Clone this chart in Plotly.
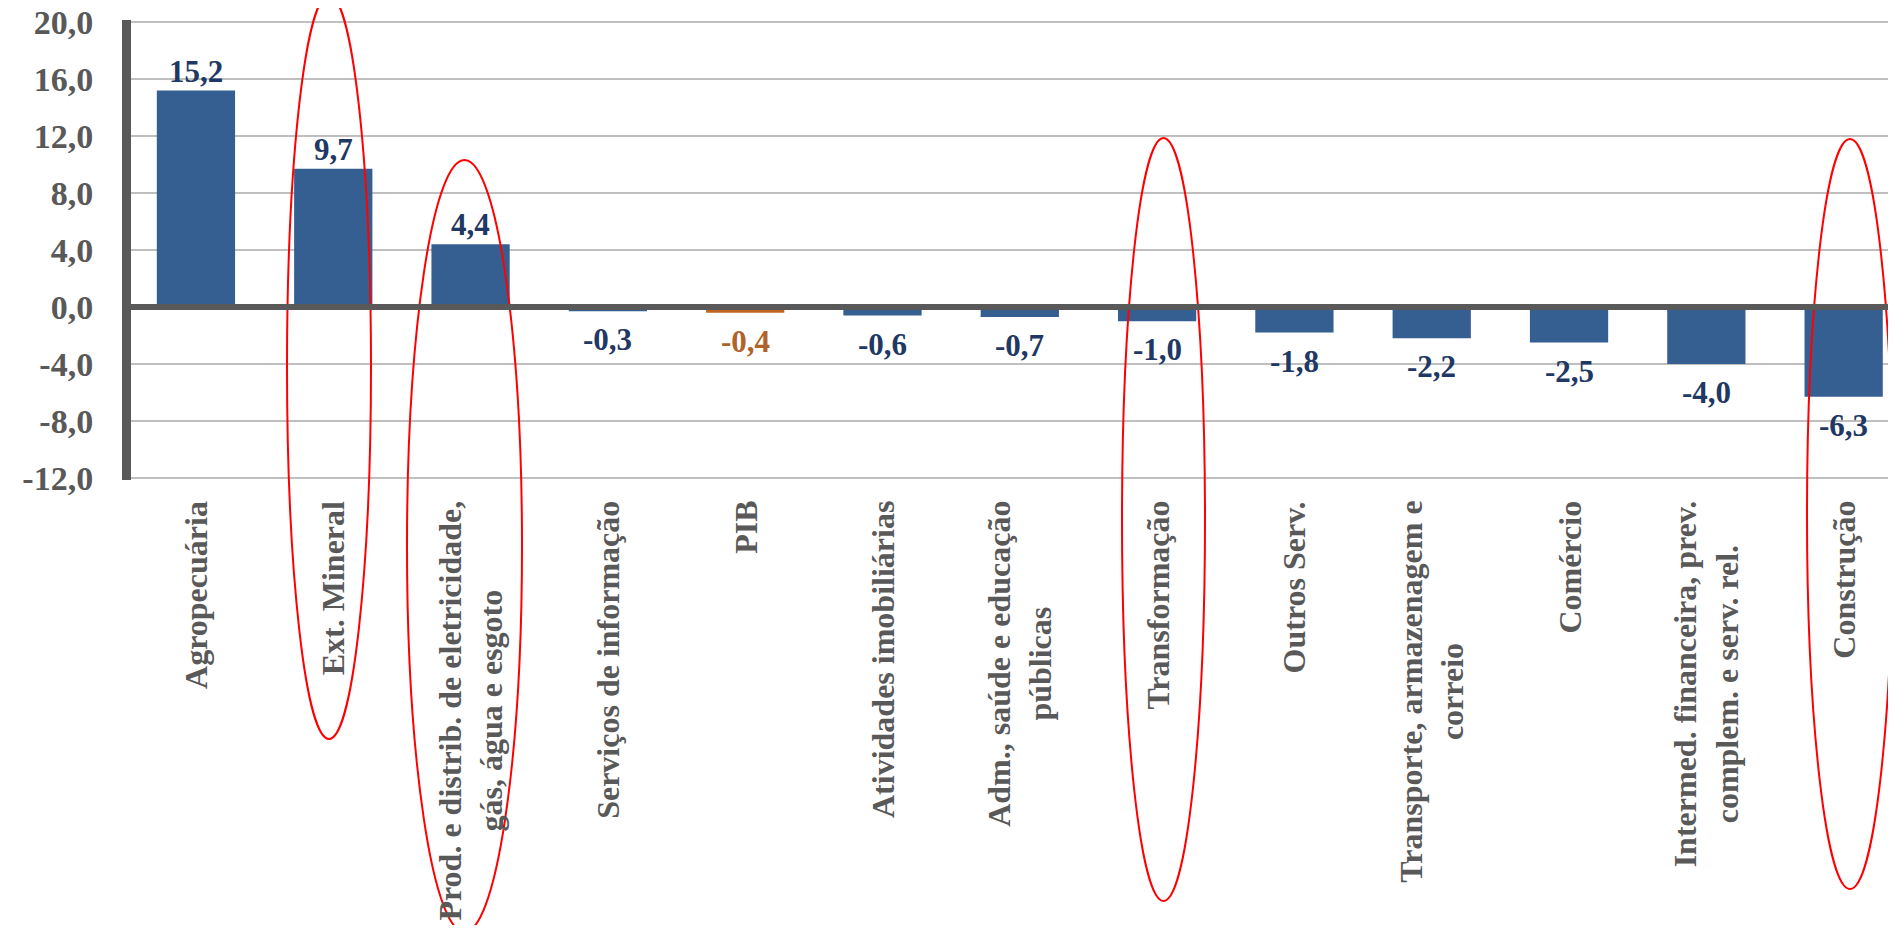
import plotly.graph_objects as go

categories = [
    "Agropecuária",
    "Ext. Mineral",
    "Prod. e distrib. de eletricidade,<br>gás, água e esgoto",
    "Serviços de informação",
    "PIB",
    "Atividades imobiliárias",
    "Adm., saúde e educação<br>públicas",
    "Transformação",
    "Outros Serv.",
    "Transporte, armazenagem e<br>correio",
    "Comércio",
    "Intermed. financeira, prev.<br>complem. e serv. rel.",
    "Construção",
]
values = [15.2, 9.7, 4.4, -0.3, -0.4, -0.6, -0.7, -1.0, -1.8, -2.2, -2.5, -4.0, -6.3]
highlighted = ["Ext. Mineral", "Prod. e distrib. de eletricidade,<br>gás, água e esgoto",
               "Transformação", "Construção"]

ytick_vals = [-12, -8, -4, 0, 4, 8, 12, 16, 20]
ytick_text = ["-12,0", "-8,0", "-4,0", "0,0", "4,0", "8,0", "12,0", "16,0", "20,0"]

# the page body has an 8px default margin: size the figure so it fills the window exactly
OFF = 8
W, H = 1896 - 2 * OFF, 933 - 2 * OFF
ML, MR, MT, MB = 123, 0, 12, 445
PW = W - ML - MR
PH = H - MT - MB

BLUE = "#365F91"
ORANGE = "#C0651F"
LBL_BLUE = "#1F3864"
LBL_ORANGE = "#B0622A"
GRAY = "#595959"
SERIF = "Liberation Serif"

bar_colors = [ORANGE if c == "PIB" else BLUE for c in categories]
lbl_colors = [LBL_ORANGE if c == "PIB" else LBL_BLUE for c in categories]
labels = [f"{v:.1f}".replace(".", ",") for v in values]

fig = go.Figure()
fig.add_trace(go.Bar(
    x=categories, y=values, marker=dict(color=bar_colors, line=dict(width=0)),
    width=0.57, hoverinfo="skip", showlegend=False,
))

annotations = []
for c, v, t, col in zip(categories, values, labels, lbl_colors):
    annotations.append(dict(
        x=c, y=v, xref="x", yref="y", text=t, showarrow=False,
        yanchor="bottom" if v >= 0 else "top", yshift=0 if v >= 0 else -9,
        font=dict(family=SERIF, size=31, color=col, weight="bold"),
    ))

def px2py(py):
    # screen pixel (window coords) -> paper y
    return (MT + PH - (py - OFF)) / PH

def px2px(px):
    return (px - OFF - ML) / PW

for c in categories:
    annotations.append(dict(
        x=c, y=px2py(499), xref="x", yref="paper", text=c, showarrow=False,
        textangle=-90, xanchor="center", yanchor="top", align="center",
        font=dict(family=SERIF, size=32, color=GRAY, weight="bold"),
    ))

# red ellipses (window pixel boxes: left, right, top, bottom)
ellipse_boxes = {
    "Ext. Mineral": (287, 371, -5, 739),
    "Prod. e distrib. de eletricidade,<br>gás, água e esgoto": (407, 522, 160, 932),
    "Transformação": (1122, 1205, 138, 901),
    "Construção": (1807, 1893, 139, 889),
}
shapes = []
for c in highlighted:
    l, r, t, b = ellipse_boxes[c]
    shapes.append(dict(type="circle", xref="paper", yref="paper",
                       x0=px2px(l), x1=px2px(r), y0=px2py(b), y1=px2py(t),
                       line=dict(color="#FF0000", width=2), layer="above"))
shapes.append(dict(type="line", xref="paper", yref="y", x0=0, x1=1, y0=0, y1=0,
                   line=dict(color=GRAY, width=6), layer="above"))

fig.update_layout(
    width=W, height=H,
    margin=dict(l=ML, r=MR, t=MT, b=MB, pad=0, autoexpand=False),
    paper_bgcolor="white", plot_bgcolor="white",
    annotations=annotations, shapes=shapes,
    bargap=0.43,
)
fig.update_xaxes(
    range=[-0.473, 12.323], showticklabels=False, showgrid=False, zeroline=False,
    showline=False, ticks="", automargin=False,
)
fig.update_yaxes(
    range=[-12.15, 20.15], tickvals=ytick_vals, ticktext=ytick_text,
    showgrid=True, gridcolor="#BFBFBF", gridwidth=2, zeroline=False,
    showline=True, linecolor=GRAY, linewidth=9, ticks="", ticklabelstandoff=22,
    automargin=False, ticklabeloverflow="allow",
    tickfont=dict(family=SERIF, size=34, color=GRAY, weight="bold"),
)

fig.write_html("out.html")
